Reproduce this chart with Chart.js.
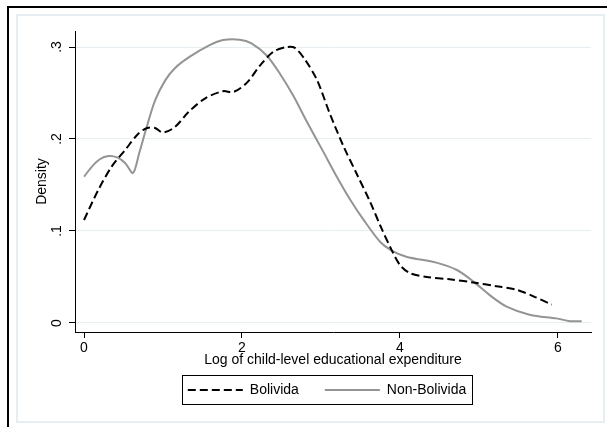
<!DOCTYPE html>
<html>
<head>
<meta charset="utf-8">
<script src="https://cdn.jsdelivr.net/npm/chart.js@4/dist/chart.umd.min.js"></script>
<style>
  html, body { margin: 0; padding: 0; background: #fff; }
  #wrap { position: absolute; left: 0; top: 0; width: 607px; height: 427px; }
</style>
</head>
<body>
<div id="wrap"><canvas id="densityChart" width="607" height="427"></canvas></div>
<script>
// ==== data ==== //
const boliX = [0.0, 0.18, 0.35, 0.52, 0.69, 0.80, 0.90, 1.0, 1.15, 1.32, 1.53, 1.76, 1.89, 2.06, 2.23, 2.40, 2.57, 2.67, 2.80, 2.95, 3.11, 3.28, 3.45, 3.62, 3.75, 3.89, 4.0, 4.13, 4.34, 4.63, 4.93, 5.22, 5.48, 5.69, 5.92];
const boliY = [0.112, 0.1445, 0.170, 0.188, 0.206, 0.212, 0.212, 0.207, 0.213, 0.229, 0.244, 0.252, 0.251, 0.261, 0.280, 0.295, 0.300, 0.299, 0.286, 0.264, 0.228, 0.193, 0.1625, 0.132, 0.106, 0.080, 0.063, 0.054, 0.050, 0.0475, 0.044, 0.040, 0.036, 0.029, 0.020];

const nonX = [0.0, 0.1, 0.2, 0.31, 0.42, 0.52, 0.62, 0.70, 0.79, 0.90, 1.03, 1.15, 1.34, 1.59, 1.76, 1.97, 2.12, 2.31, 2.48, 2.65, 2.82, 3.03, 3.2, 3.37, 3.54, 3.75, 3.89, 4.08, 4.46, 4.72, 4.93, 5.14, 5.35, 5.65, 5.98, 6.15, 6.3];
const nonY = [0.159, 0.170, 0.178, 0.1815, 0.180, 0.174, 0.163, 0.185, 0.212, 0.242, 0.264, 0.277, 0.2895, 0.302, 0.3076, 0.308, 0.304, 0.291, 0.271, 0.247, 0.219, 0.186, 0.159, 0.134, 0.112, 0.088, 0.079, 0.072, 0.0656, 0.0576, 0.045, 0.030, 0.0177, 0.0087, 0.005, 0.002, 0.002];

const xTicks = [0, 2, 4, 6];
const xTickLabels = ['0', '2', '4', '6'];
const yTicks = [0, 0.1, 0.2, 0.3];
const yTickLabels = ['0', '.1', '.2', '.3'];

const seriesNames = ['Bolivida', 'Non-Bolivida'];
const xTitle = 'Log of child-level educational expenditure';
const yTitle = 'Density';

// 점 배열 만들기
function toPoints(xs, ys) {
	return xs.map((x, i) => ({ x: x, y: ys[i] }));
}

const FONT = "'Liberation Sans Narrow', 'Arial Narrow', 'Liberation Sans', Arial, sans-serif";

// 바깥 테두리 (Stata 그래프 영역 느낌)
const framePlugin = {
	id: 'frame',
	beforeDraw(chart) {
		const ctx = chart.ctx;
		ctx.save();
		ctx.strokeStyle = '#e6eef1';
		ctx.lineWidth = 2;
		ctx.strokeRect(17, 15, 587, 407);
		ctx.strokeStyle = '#000';
		ctx.lineWidth = 2;
		ctx.beginPath();
		ctx.moveTo(8, 427);
		ctx.lineTo(8, 7);
		ctx.lineTo(607, 7);
		ctx.stroke();
		ctx.restore();
	}
};

// 범례 위치 살짝 왼쪽으로 + 테두리 박스
const legendBoxPlugin = {
	id: 'legendBox',
	afterLayout(chart) {
		const lg = chart.legend;
		lg.left -= 6;
		lg.right -= 6;
	},
	afterDraw(chart) {
		const lg = chart.legend;
		const pad = lg.options.labels.padding;
		const lw = lg.lineWidths[0];
		const start = (lg.left + pad + lg.right - lw) / 2;
		const fs = lg.options.labels.font.size;
		const cy = lg.top + pad + fs / 2;
		const ctx = chart.ctx;
		ctx.save();
		ctx.strokeStyle = '#000';
		ctx.lineWidth = 1;
		ctx.strokeRect(Math.round(start - 6) + 0.5, Math.round(cy - 15) + 0.5, Math.round(lw - pad + 12), 29);
		ctx.restore();
	}
};

const ctx = document.getElementById('densityChart').getContext('2d');
const densityChart = new Chart(ctx, {
	type: 'line',
	data: {
		datasets: [{
			label: seriesNames[0],
			data: toPoints(boliX, boliY),
			borderColor: '#000000',
			borderWidth: 2,
			borderDash: [8, 4],
			pointRadius: 0,
			fill: false,
			tension: 0.3
		}, {
			label: seriesNames[1],
			data: toPoints(nonX, nonY),
			borderColor: '#949494',
			borderWidth: 2,
			pointRadius: 0,
			fill: false,
			tension: 0.3
		}]
	},
	options: {
		responsive: false,
		animation: false,
		events: [],
		layout: { padding: { left: 0, top: 31, right: 16, bottom: 20 } },
		scales: {
			x: {
				type: 'linear',
				min: -0.114,
				max: 6.418,
				afterBuildTicks: s => { s.ticks = xTicks.map(v => ({ value: v })); },
				afterFit: s => { s.height = 25; },
				ticks: {
					color: '#000',
					font: { family: FONT, size: 14 },
					padding: 2,
					maxRotation: 0,
					callback: (v) => xTickLabels[xTicks.indexOf(v)]
				},
				grid: { drawOnChartArea: false, tickColor: '#000', tickLength: 6, tickWidth: 1 },
				border: { color: '#000', width: 1 },
				title: {
					display: true,
					text: xTitle,
					color: '#000',
					font: { family: FONT, size: 14 },
					padding: { top: 0, bottom: -12 }
				}
			},
			y: {
				type: 'linear',
				min: -0.0098,
				max: 0.3174,
				afterBuildTicks: s => { s.ticks = yTicks.map(v => ({ value: v })); },
				afterFit: s => { s.width = 75; },
				ticks: {
					color: '#000',
					font: { family: FONT, size: 14 },
					minRotation: 90,
					maxRotation: 90,
					crossAlign: 'center',
					padding: 6,
					callback: (v) => yTickLabels[yTicks.indexOf(v)]
				},
				grid: { color: '#e6eef1', lineWidth: 1, tickColor: '#000', tickLength: 6, tickWidth: 1 },
				border: { color: '#000', width: 1 },
				title: {
					display: true,
					text: yTitle,
					color: '#000',
					font: { family: FONT, size: 14 },
					padding: { top: 33.6, bottom: 0 }
				}
			}
		},
		plugins: {
			legend: {
				display: true,
				position: 'bottom',
				fullSize: false,
				labels: {
					color: '#000',
					font: { family: FONT, size: 14 },
					usePointStyle: true,
					pointStyle: 'line',
					pointStyleWidth: 55,
					padding: 26,
					// 범례 선에도 점선 스타일 적용
					generateLabels: (chart) => {
						const items = Chart.defaults.plugins.legend.labels.generateLabels(chart);
						items.forEach((it) => {
							const ds = chart.data.datasets[it.datasetIndex];
							it.lineDash = ds.borderDash || [];
							it.lineWidth = ds.borderWidth;
							it.strokeStyle = ds.borderColor;
						});
						return items;
					}
				}
			},
			tooltip: { enabled: false }
		}
	},
	plugins: [framePlugin, legendBoxPlugin]
});
</script>
</body>
</html>
